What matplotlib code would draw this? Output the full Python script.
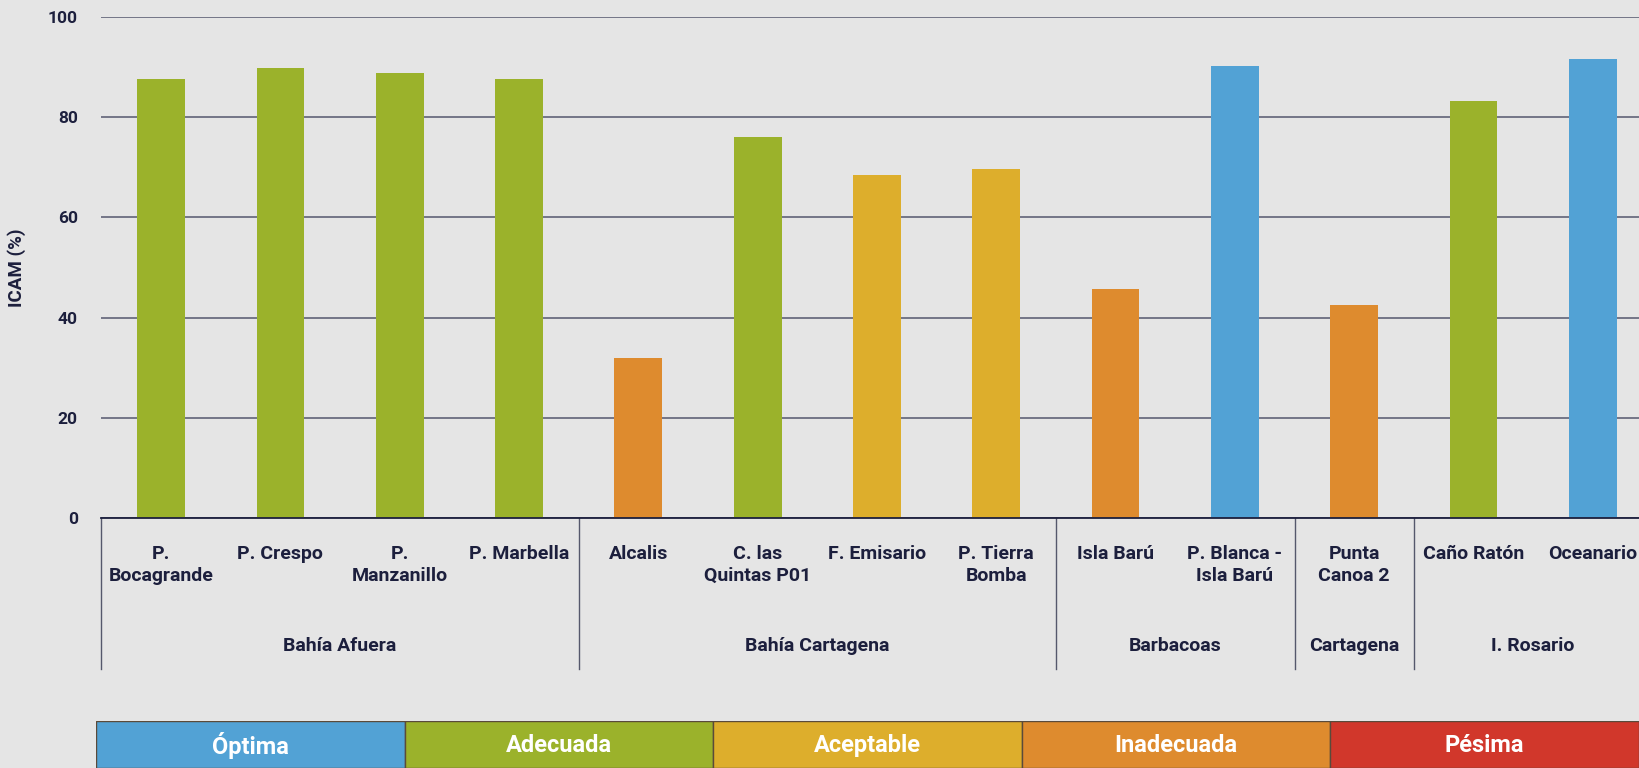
import matplotlib
matplotlib.use("Agg")
import matplotlib.pyplot as plt
import matplotlib.transforms as mtransforms

# data
stations = ["P.\nBocagrande", "P. Crespo", "P.\nManzanillo", "P. Marbella",
            "Alcalis", "C. las\nQuintas P01", "F. Emisario", "P. Tierra\nBomba",
            "Isla Barú", "P. Blanca -\nIsla Barú", "Punta\nCanoa 2",
            "Caño Ratón", "Oceanario"]
icam = [87.5, 89.8, 88.8, 87.5, 31.9, 76.0, 68.5, 69.6, 45.8, 90.1, 42.5, 83.1, 91.6]
quality = ["Adecuada", "Adecuada", "Adecuada", "Adecuada", "Inadecuada", "Adecuada",
           "Aceptable", "Aceptable", "Inadecuada", "Óptima", "Inadecuada",
           "Adecuada", "Óptima"]
groups = ["Bahía Afuera", "Bahía Cartagena", "Barbacoas", "Cartagena", "I. Rosario"]
group_sizes = [4, 4, 2, 1, 2]

classes = ["Óptima", "Adecuada", "Aceptable", "Inadecuada", "Pésima"]
class_colors = ["#52a2d5", "#9bb22b", "#ddae2c", "#de8b2e", "#d1372b"]
color_of = dict(zip(classes, class_colors))

bg = "#e5e5e5"
ink = "#1c1f3d"
plt.rcParams["font.family"] = ["Roboto", "DejaVu Sans"]
plt.rcParams["font.weight"] = "bold"

fig = plt.figure(figsize=(16.39, 7.68), dpi=100, facecolor=bg)
ax = fig.add_axes([0.0619, 0.3249, 0.9463, 0.6534], facecolor=bg)

x = list(range(len(stations)))
ax.bar(x, icam, width=0.4, color=[color_of[q] for q in quality], zorder=3)

ax.set_xlim(-0.5, len(stations) - 0.5)
ax.set_ylim(0, 100)
ax.set_yticks([0, 20, 40, 60, 80, 100])
ax.tick_params(axis="y", length=0, pad=17, labelsize=12.5, labelcolor=ink)
ax.set_xticks([])
ax.grid(axis="y", color="#6b6d80", linewidth=1.3, zorder=1)
for s in ["left", "right", "top"]:
    ax.spines[s].set_visible(False)
ax.spines["bottom"].set_color(ink)
ax.spines["bottom"].set_linewidth(1.3)
ax.spines["bottom"].set_zorder(4)
ax.set_ylabel("ICAM (%)", fontsize=13.5, color=ink, fontweight="bold")
ax.yaxis.set_label_coords(-0.0486, 0.5)

trans = mtransforms.blended_transform_factory(ax.transData, ax.transAxes)
for i, name in enumerate(stations):
    ax.text(i, -0.052, name, transform=trans, ha="center", va="top",
            fontsize=14, color=ink, linespacing=1.3)

start = 0
bounds = [0]
for g, n in zip(groups, group_sizes):
    mid = start + (n - 1) / 2
    ax.text(mid, -0.255, g, transform=trans, ha="center", va="center",
            fontsize=14, color=ink)
    start += n
    bounds.append(start)
for b in bounds:
    ax.plot([b - 0.5, b - 0.5], [0, -0.30], transform=trans, color="#55586c",
            linewidth=1, clip_on=False)

# colour scale strip at the bottom
lax = fig.add_axes([96 / 1639, 0, 1 - 96 / 1639, 47 / 768])
lx = list(range(len(classes)))
lax.bar(lx, [1] * len(classes), width=1.0, color=class_colors,
        edgecolor="#5a4a3a", linewidth=1.0)
lax.set_xlim(-0.5, len(classes) - 0.5)
lax.set_ylim(0, 1.0)
lax.axis("off")
for i, c in enumerate(classes):
    lax.text(i, 0.47, c, ha="center", va="center", color="white", fontsize=17)

fig.savefig("out.png", dpi=100, facecolor=bg)
